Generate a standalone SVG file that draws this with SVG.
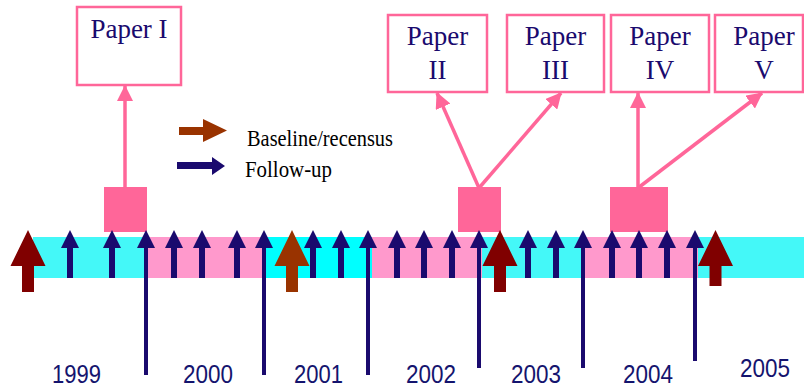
<svg xmlns="http://www.w3.org/2000/svg" xmlns:xlink="http://www.w3.org/1999/xlink" width="804" height="389" viewBox="0 0 804 389">
<style>
.box{fill:#FFFFFF;stroke:#FF6699;stroke-width:2.5}
.pt{font-family:"Liberation Serif","Times New Roman",serif;font-size:27px;fill:#1A0A6E;text-anchor:middle}
.yr{font-family:"Liberation Sans",Arial,sans-serif;font-size:26px;fill:#14146E}
.lg{font-family:"Liberation Serif","Times New Roman",serif;font-size:23px;fill:#000000}
.pl{stroke:#FF6699;stroke-width:3.5;fill:none;marker-end:url(#ph)}
.sq{fill:#FF6699}
.fu{fill:#1A0A6E}
.mr{fill:#800000}
.br{fill:#993300}
</style>
<defs>
<marker id="ph" markerUnits="userSpaceOnUse" markerWidth="16" markerHeight="16" viewBox="0 0 16 16" refX="15" refY="8" orient="auto">
<path d="M0,0 L16,8 L0,16 Z" fill="#FF6699"/>
</marker>
<path id="sa" d="M-3,278 V248 H-9 L0,230 L9,248 H3 V278 Z"/>
<path id="bb" d="M-6,292 V266 H-17.5 L0,230 L17.5,266 H6 V292 Z"/>
</defs>

<g id="band">
<rect x="33" y="237" width="771" height="41" fill="#44F8F8"/>
<rect x="265" y="237" width="217" height="41" fill="#00FFFF"/>
<rect x="147" y="237" width="118" height="41" fill="#FF99CC"/>
<rect x="372" y="237" width="110" height="41" fill="#FF99CC"/>
<rect x="583" y="237" width="115" height="41" fill="#FF99CC"/>
</g>

<g id="paper1"><rect class="box" x="77" y="7" width="104" height="78"/><text class="pt" x="129" y="38">Paper I</text></g>
<g id="paper2"><rect class="box" x="388" y="15" width="99" height="77"/><text class="pt" x="437.5" y="45">Paper</text><text class="pt" x="437.5" y="79">II</text></g>
<g id="paper3"><rect class="box" x="507" y="15" width="97" height="77"/><text class="pt" x="555.5" y="45">Paper</text><text class="pt" x="555.5" y="79">III</text></g>
<g id="paper4"><rect class="box" x="611" y="15" width="98" height="77"/><text class="pt" x="660" y="45">Paper</text><text class="pt" x="660" y="79">IV</text></g>
<g id="paper5"><rect class="box" x="715" y="15" width="88" height="77"/><text class="pt" x="764" y="45">Paper</text><text class="pt" x="764" y="79">V</text></g>

<g id="sq1"><rect class="sq" x="104" y="187" width="43" height="45"/></g>
<g id="sq2"><rect class="sq" x="458" y="187" width="43" height="45"/></g>
<g id="sq3"><rect class="sq" x="610" y="187" width="58" height="45"/></g>

<g id="connectors">
<line class="pl" x1="125" y1="188" x2="125" y2="86"/>
<line class="pl" x1="479" y1="188" x2="437" y2="93"/>
<line class="pl" x1="479" y1="188" x2="561" y2="93"/>
<line class="pl" x1="638" y1="188" x2="638" y2="93"/>
<line class="pl" x1="638" y1="188" x2="762" y2="93"/>
</g>

<g id="followups" class="fu">
<use xlink:href="#sa" x="70"/>
<use xlink:href="#sa" x="112"/>
<use xlink:href="#sa" x="174"/>
<use xlink:href="#sa" x="202"/>
<use xlink:href="#sa" x="237"/>
<use xlink:href="#sa" x="313"/>
<use xlink:href="#sa" x="341"/>
<use xlink:href="#sa" x="397"/>
<use xlink:href="#sa" x="424"/>
<use xlink:href="#sa" x="452"/>
<use xlink:href="#sa" x="528"/>
<use xlink:href="#sa" x="556"/>
<use xlink:href="#sa" x="612"/>
<use xlink:href="#sa" x="639"/>
<use xlink:href="#sa" x="667"/>
<path d="M144,375 V248 H137 L146,230 L155,248 H148 V375 Z"/>
<path d="M262,375 V248 H255 L264,230 L273,248 H266 V375 Z"/>
<path d="M366,375 V248 H359 L368,230 L377,248 H370 V375 Z"/>
<path d="M477,368 V248 H470 L479,230 L488,248 H481 V368 Z"/>
<path d="M581,368 V248 H574 L583,230 L592,248 H585 V368 Z"/>
<path d="M693,361 V248 H686 L695,230 L704,248 H697 V361 Z"/>
</g>

<g id="baselines">
<use class="mr" xlink:href="#bb" x="28"/>
<use class="br" xlink:href="#bb" x="292"/>
<use class="mr" xlink:href="#bb" x="500"/>
<path class="mr" d="M709.5,286 V266 H698 L715.5,230 L733,266 H721.5 V286 Z"/>
</g>

<g id="legend">
<path class="br" d="M179,127 H203 V119 L227,130.5 L203,142 V135 H179 Z"/>
<text class="lg" x="247" y="146" textLength="146" lengthAdjust="spacingAndGlyphs">Baseline/recensus</text>
<path class="fu" d="M177,162 H212 V157 L225,166 L212,175 V169 H177 Z"/>
<text class="lg" x="245" y="177" textLength="87" lengthAdjust="spacingAndGlyphs">Follow-up</text>
</g>

<g id="years">
<text class="yr" x="52" y="383" textLength="49" lengthAdjust="spacingAndGlyphs">1999</text>
<text class="yr" x="183" y="383" textLength="50" lengthAdjust="spacingAndGlyphs">2000</text>
<text class="yr" x="294" y="383" textLength="49" lengthAdjust="spacingAndGlyphs">2001</text>
<text class="yr" x="406" y="383" textLength="50" lengthAdjust="spacingAndGlyphs">2002</text>
<text class="yr" x="511" y="383" textLength="50" lengthAdjust="spacingAndGlyphs">2003</text>
<text class="yr" x="623" y="383" textLength="50" lengthAdjust="spacingAndGlyphs">2004</text>
<text class="yr" x="740" y="377" textLength="50" lengthAdjust="spacingAndGlyphs">2005</text>
</g>
</svg>
